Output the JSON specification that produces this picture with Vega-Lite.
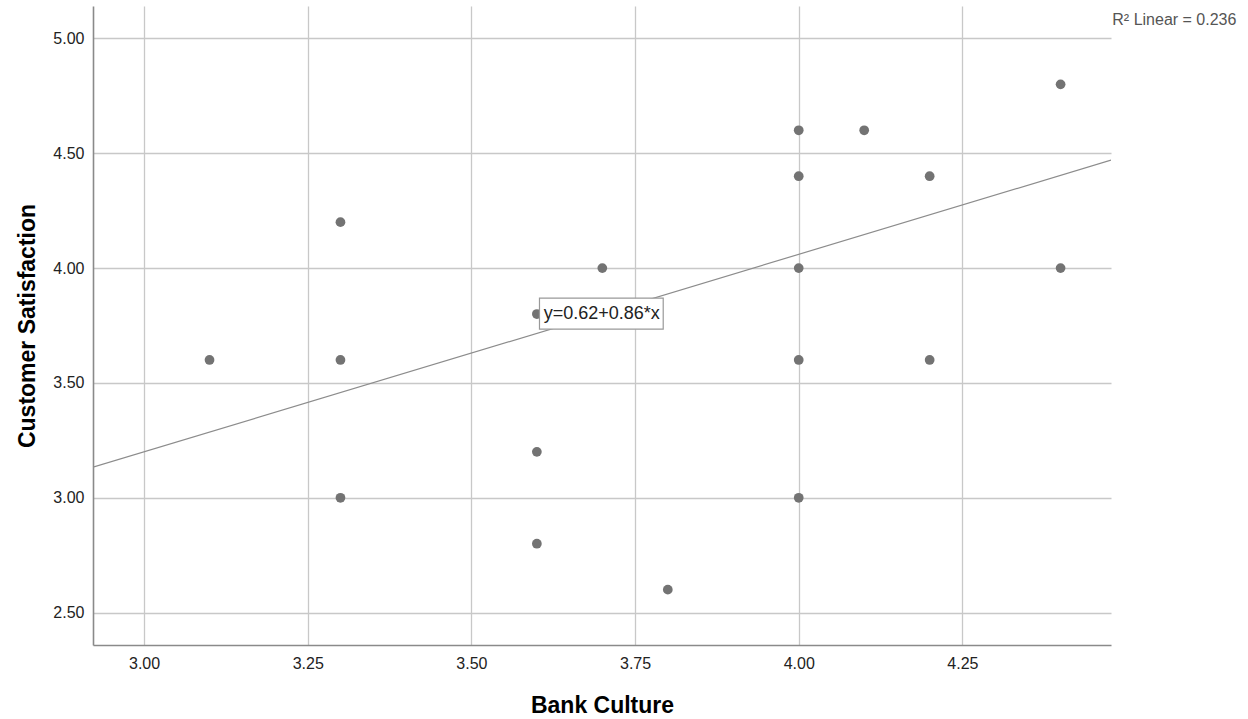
{
  "$schema": "https://vega.github.io/schema/vega-lite/v6.json",
  "width": 1018,
  "height": 639,
  "autosize": {"type": "none"},
  "padding": {"left": 93, "top": 6, "right": 137, "bottom": 74},
  "background": "white",
  "config": {
    "view": {"stroke": null},
    "font": "Liberation Sans"
  },
  "datasets": {
    "points": [
      {"bank_culture": 3.1, "customer_satisfaction": 3.6},
      {"bank_culture": 3.3, "customer_satisfaction": 4.2},
      {"bank_culture": 3.3, "customer_satisfaction": 3.6},
      {"bank_culture": 3.3, "customer_satisfaction": 3.0},
      {"bank_culture": 3.6, "customer_satisfaction": 3.8},
      {"bank_culture": 3.6, "customer_satisfaction": 3.2},
      {"bank_culture": 3.6, "customer_satisfaction": 2.8},
      {"bank_culture": 3.7, "customer_satisfaction": 4.0},
      {"bank_culture": 3.8, "customer_satisfaction": 2.6},
      {"bank_culture": 4.0, "customer_satisfaction": 4.6},
      {"bank_culture": 4.0, "customer_satisfaction": 4.4},
      {"bank_culture": 4.0, "customer_satisfaction": 4.0},
      {"bank_culture": 4.0, "customer_satisfaction": 3.6},
      {"bank_culture": 4.0, "customer_satisfaction": 3.0},
      {"bank_culture": 4.1, "customer_satisfaction": 4.6},
      {"bank_culture": 4.2, "customer_satisfaction": 4.4},
      {"bank_culture": 4.2, "customer_satisfaction": 3.6},
      {"bank_culture": 4.4, "customer_satisfaction": 4.8},
      {"bank_culture": 4.4, "customer_satisfaction": 4.0}
    ],
    "fit": [
      {"bank_culture": 2.922, "customer_satisfaction": 3.133},
      {"bank_culture": 4.477, "customer_satisfaction": 4.470}
    ],
    "eqlabel": [
      {"label": "y=0.62+0.86*x", "x": 3.699, "y": 3.80, "x1": 3.604, "x2": 3.793, "y1": 3.869, "y2": 3.734}
    ],
    "r2label": [
      {"label": "R² Linear = 0.236", "x": 4.479, "y": 5.08}
    ]
  },
  "layer": [
    {
      "data": {"name": "points"},
      "mark": {"type": "point", "filled": true, "size": 95, "color": "#737373", "opacity": 1},
      "encoding": {
        "x": {
          "field": "bank_culture", "type": "quantitative",
          "scale": {"domain": [2.922, 4.477], "nice": false, "zero": false},
          "axis": {
            "title": "Bank Culture",
            "values": [3.0, 3.25, 3.5, 3.75, 4.0, 4.25],
            "format": ".2f",
            "grid": true, "gridColor": "#c8c8c8", "gridWidth": 1.3,
            "ticks": false,
            "domainColor": "#8a8a8a", "domainWidth": 1.6,
            "labelFont": "Liberation Sans", "labelFontSize": 16, "labelColor": "#222222",
            "labelPadding": 10,
            "titleFont": "Liberation Sans", "titleFontSize": 23, "titleFontWeight": "bold", "titleColor": "#000000",
            "titleBaseline": "middle", "titleY": 60
          }
        },
        "y": {
          "field": "customer_satisfaction", "type": "quantitative",
          "scale": {"domain": [2.359, 5.141], "nice": false, "zero": false},
          "axis": {
            "title": "Customer Satisfaction",
            "values": [2.5, 3.0, 3.5, 4.0, 4.5, 5.0],
            "format": ".2f",
            "grid": true, "gridColor": "#c8c8c8", "gridWidth": 1.3,
            "ticks": false,
            "domainColor": "#8a8a8a", "domainWidth": 1.6,
            "labelFont": "Liberation Sans", "labelFontSize": 16, "labelColor": "#222222",
            "labelPadding": 9,
            "titleFont": "Liberation Sans", "titleFontSize": 23, "titleFontWeight": "bold", "titleColor": "#000000",
            "titleBaseline": "middle", "titleX": -66
          }
        }
      }
    },
    {
      "data": {"name": "fit"},
      "mark": {"type": "line", "color": "#8c8c8c", "strokeWidth": 1.2, "clip": true},
      "encoding": {
        "x": {"field": "bank_culture", "type": "quantitative"},
        "y": {"field": "customer_satisfaction", "type": "quantitative"}
      }
    },
    {
      "data": {"name": "eqlabel"},
      "mark": {"type": "rect", "fill": "white", "stroke": "#999999", "strokeWidth": 1.2},
      "encoding": {
        "x": {"field": "x1", "type": "quantitative"},
        "x2": {"field": "x2"},
        "y": {"field": "y1", "type": "quantitative"},
        "y2": {"field": "y2"}
      }
    },
    {
      "data": {"name": "eqlabel"},
      "mark": {"type": "text", "font": "Liberation Sans", "fontSize": 18, "color": "#222222", "align": "center", "baseline": "middle"},
      "encoding": {
        "x": {"field": "x", "type": "quantitative"},
        "y": {"field": "y", "type": "quantitative"},
        "text": {"field": "label"}
      }
    },
    {
      "data": {"name": "r2label"},
      "mark": {"type": "text", "font": "Liberation Sans", "fontSize": 16, "color": "#555555", "align": "left", "baseline": "middle", "clip": false},
      "encoding": {
        "x": {"field": "x", "type": "quantitative"},
        "y": {"field": "y", "type": "quantitative"},
        "text": {"field": "label"}
      }
    }
  ]
}
